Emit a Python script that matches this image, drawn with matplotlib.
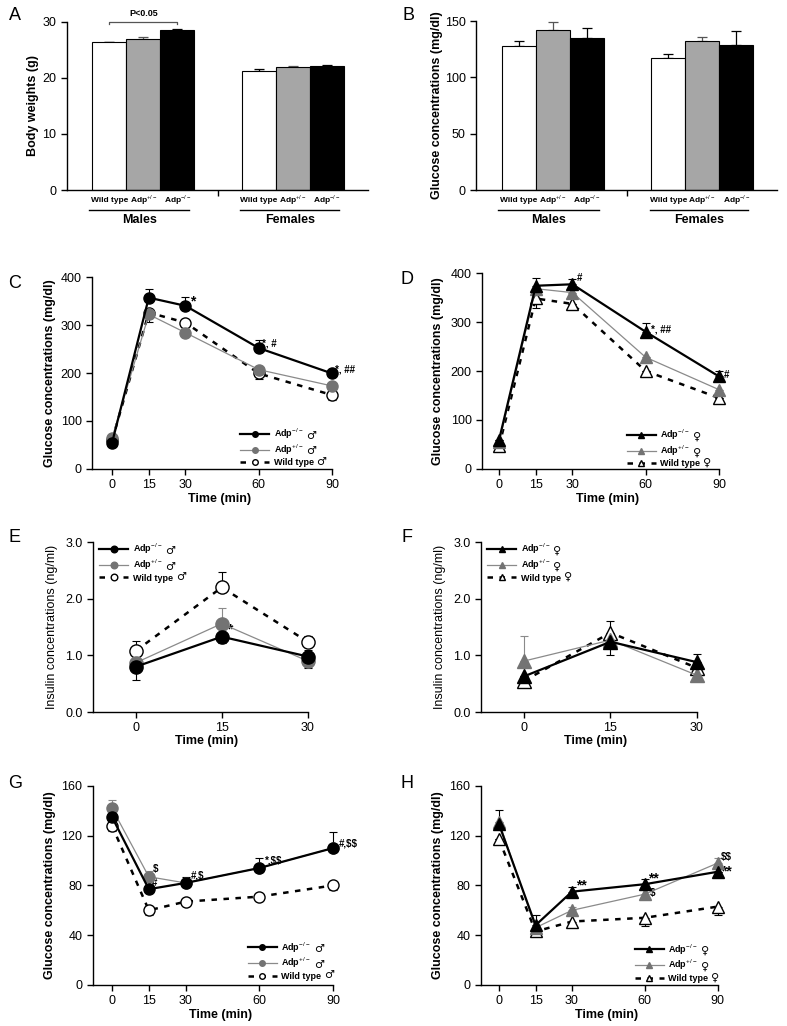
import numpy as np
import matplotlib
matplotlib.use('Agg')
import matplotlib.pyplot as plt
import matplotlib.transforms as mtransforms

plt.rcParams['font.family'] = ['Liberation Sans', 'DejaVu Sans']
plt.rcParams['mathtext.fontset'] = 'custom'
plt.rcParams['mathtext.rm'] = 'Liberation Sans'
plt.rcParams['mathtext.bf'] = 'Liberation Sans:bold'
plt.rcParams['axes.linewidth'] = 1.0

# ---------------- data ----------------
genotypes = ['Wild type', r'Adp$^{+/-}$', r'Adp$^{-/-}$']
sexes = ['Males', 'Females']

# A: body weights (g)
bw_males = [26.4, 27.0, 28.6]
bw_males_err = [0.1, 0.3, 0.1]
bw_females = [21.2, 21.9, 22.2]
bw_females_err = [0.4, 0.3, 0.1]

# B: fasting glucose (mg/dl)
glu_males = [128, 142, 135]
glu_males_err = [4, 7, 9]
glu_females = [117, 132, 129]
glu_females_err = [4, 4, 12]

t_gtt = [0, 15, 30, 60, 90]
t_ins = [0, 15, 30]

# C: GTT males  (mean, err down, err up)
c_ko = [55, 357, 340, 252, 199]
c_ko_dn = [0, 0, 0, 0, 0]
c_ko_up = [0, 18, 18, 17, 6]
c_het = [65, 322, 284, 207, 173]
c_het_dn = [0, 0, 0, 0, 0]
c_het_up = [0, 0, 6, 6, 0]
c_wt = [60, 326, 305, 199, 154]
c_wt_dn = [0, 20, 0, 12, 10]
c_wt_up = [0, 0, 0, 0, 0]

# D: GTT females
d_ko = [60, 374, 377, 280, 189]
d_ko_dn = [0, 0, 0, 0, 0]
d_ko_up = [0, 15, 10, 18, 10]
d_het = [55, 368, 360, 228, 162]
d_het_dn = [0, 0, 0, 0, 0]
d_het_up = [0, 0, 0, 0, 0]
d_wt = [47, 348, 337, 200, 145]
d_wt_dn = [0, 20, 0, 0, 0]
d_wt_up = [0, 0, 0, 0, 0]

# E: insulin males (ng/ml)
e_ko = [0.80, 1.33, 0.98]
e_ko_dn = [0.23, 0.12, 0.20]
e_ko_up = [0, 0, 0.12]
e_het = [0.87, 1.56, 0.90]
e_het_dn = [0, 0, 0.10]
e_het_up = [0, 0.27, 0]
e_wt = [1.08, 2.20, 1.24]
e_wt_dn = [0, 0, 0]
e_wt_up = [0.18, 0.27, 0.10]

# F: insulin females
f_ko = [0.63, 1.24, 0.88]
f_ko_dn = [0, 0.24, 0]
f_ko_up = [0, 0, 0.14]
f_het = [0.90, 1.27, 0.65]
f_het_dn = [0, 0, 0]
f_het_up = [0.45, 0, 0]
f_wt = [0.55, 1.40, 0.78]
f_wt_dn = [0.07, 0, 0]
f_wt_up = [0, 0.20, 0]

# G: ITT males
g_ko = [135, 77, 82, 94, 110]
g_ko_dn = [0, 0, 0, 0, 0]
g_ko_up = [0, 0, 5, 8, 13]
g_het = [142, 87, 82, 94, 110]
g_het_dn = [0, 0, 0, 0, 0]
g_het_up = [7, 5, 0, 0, 0]
g_wt = [128, 60, 67, 71, 80]
g_wt_dn = [4, 4, 0, 0, 4]
g_wt_up = [0, 0, 0, 0, 0]

# H: ITT females
h_ko = [129, 48, 75, 81, 91]
h_ko_dn = [0, 0, 0, 0, 0]
h_ko_up = [12, 8, 4, 4, 0]
h_het = [131, 46, 60, 73, 98]
h_het_dn = [0, 0, 0, 3, 0]
h_het_up = [0, 0, 3, 0, 4]
h_wt = [117, 43, 51, 54, 63]
h_wt_dn = [0, 0, 4, 7, 7]
h_wt_up = [0, 0, 0, 0, 0]

legend_labels = [r'Adp$^{-/-}$', r'Adp$^{+/-}$', 'Wild type']
MALE = '♂'
FEMALE = '♀'

GREY_BAR = '#a6a6a6'
GREY_LINE = '#8a8a8a'
GREY_MK = '#737373'

fig = plt.figure(figsize=(7.87, 10.26), dpi=100)
sex_symbols = []  # (legend, symbol) pairs, symbols added after a draw


def style_axes(ax):
    ax.spines['top'].set_visible(False)
    ax.spines['right'].set_visible(False)
    ax.tick_params(direction='out', length=4, width=1, labelsize=9)


# ---------------- bar panels ----------------
def bar_panel(rect, males, males_err, females, females_err, ymax, yticks, ylabel, ylab_x):
    ax = fig.add_axes(rect)
    style_axes(ax)
    pos_m = [1.25, 2.25, 3.25]
    pos_f = [5.65, 6.65, 7.65]
    colors = ['white', GREY_BAR, 'black']
    for p, v, e, c in zip(pos_m + pos_f, males + females, males_err + females_err, colors * 2):
        ax.bar(p, v, width=1.0, color=c, edgecolor='black', linewidth=0.8, zorder=2)
        ax.errorbar(p, v, yerr=[[0], [e]], fmt='none', ecolor='black' if c != GREY_BAR else '#555555',
                    elinewidth=0.9, capsize=3.5, capthick=0.9, zorder=1)
    ax.set_xlim(0, 8.85)
    ax.set_ylim(0, ymax)
    ax.set_yticks(yticks)
    ax.set_xticks([4.45])
    ax.set_xticklabels([])
    ax.set_ylabel(ylabel, fontsize=9, fontweight='bold')
    ax.yaxis.set_label_coords(ylab_x, 0.5)
    trans = mtransforms.blended_transform_factory(ax.transData, ax.transAxes)
    for p, lab in zip(pos_m + pos_f, genotypes * 2):
        ax.text(p, -0.06, lab, transform=trans, ha='center', va='center',
                fontsize=6, fontweight='bold')
    for (x0, x1), s in zip([(0.65, 3.6), (5.1, 8.0)], sexes):
        ax.plot([x0, x1], [-0.12, -0.12], color='black', lw=1.0, transform=trans, clip_on=False)
        ax.text((x0 + x1) / 2, -0.18, s, transform=trans, ha='center', va='center',
                fontsize=9, fontweight='bold')
    return ax


axA = bar_panel([0.085, 0.8148, 0.3825, 0.1638], bw_males, bw_males_err, bw_females, bw_females_err,
                30, [0, 10, 20, 30], 'Body weights (g)', -0.093)
# significance bracket
axA.plot([1.25, 1.25, 3.25, 3.25], [29.6, 30.0, 30.0, 29.6], color='#555555', lw=0.9, clip_on=False)
axA.text(2.25, 31.5, 'P<0.05', ha='center', va='center', fontsize=6.5, fontweight='bold')

axB = bar_panel([0.605, 0.8148, 0.3825, 0.1647], glu_males, glu_males_err, glu_females, glu_females_err,
                150, [0, 50, 100, 150], 'Glucose concentrations (mg/dl)', -0.11)


# ---------------- line panels ----------------
def line_panel(rect, t, series, symbol, marker, msize, xlim, ylim, yticks, ylabel, ylab_x,
               xlab_y, leg_anchor, yfmt=None):
    ax = fig.add_axes(rect)
    style_axes(ax)
    ko, het, wt = series
    eb = dict(fmt='none', elinewidth=0.8, capsize=3, capthick=0.8, zorder=2, clip_on=False)
    # wild type (dashed, open markers)
    m, dn, up = wt
    ax.errorbar(t, m, yerr=[dn, up], ecolor='black', **eb)
    h_wt, = ax.plot(t, m, color='black', lw=1.8, ls=(0, (2.2, 2.6)), marker=marker, ms=msize,
                    mfc='white', mec='black', mew=1.0, zorder=3, clip_on=False)
    # heterozygous (thin grey)
    m, dn, up = het
    ax.errorbar(t, m, yerr=[dn, up], ecolor=GREY_LINE, **eb)
    h_het, = ax.plot(t, m, color=GREY_LINE, lw=0.9, marker=marker, ms=msize,
                     mfc=GREY_MK, mec=GREY_MK, zorder=4, clip_on=False)
    # knockout (thick black)
    m, dn, up = ko
    ax.errorbar(t, m, yerr=[dn, up], ecolor='black', **eb)
    h_ko, = ax.plot(t, m, color='black', lw=1.6, marker=marker, ms=msize,
                    mfc='black', mec='black', zorder=5, clip_on=False)
    ax.set_xlim(*xlim)
    ax.set_ylim(*ylim)
    ax.set_xticks(t)
    ax.set_yticks(yticks)
    if yfmt:
        ax.set_yticklabels([yfmt % v for v in yticks])
    ax.spines['bottom'].set_bounds(xlim[0], t[-1])
    if 'Insulin' in ylabel:
        ax.set_ylabel(ylabel, fontsize=9)
    else:
        ax.set_ylabel(ylabel, fontsize=9, fontweight='bold')
    ax.yaxis.set_label_coords(ylab_x, 0.5)
    ax.set_xlabel('Time (min)', fontsize=9, fontweight='bold')
    ax.xaxis.set_label_coords(0.53, xlab_y)
    leg = ax.legend([h_ko, h_het, h_wt], legend_labels, loc='upper left', bbox_to_anchor=leg_anchor,
                    frameon=False, fontsize=6.5, markerscale=0.5, handlelength=3.2,
                    handletextpad=0.5, labelspacing=0.15, borderpad=0, borderaxespad=0)
    for txt in leg.get_texts():
        txt.set_fontweight('bold')
    sex_symbols.append((leg, symbol))
    return ax


def annotate(ax, items, size=7):
    for x, y, s in items:
        fs = 10 if set(s) == {'*'} else size
        ax.text(x, y, s.replace('$', r'\$'), ha='left', va='center', fontsize=fs, fontweight='bold')


axC = line_panel([0.117, 0.5429, 0.305, 0.1871], t_gtt,
                 [(c_ko, c_ko_dn, c_ko_up), (c_het, c_het_dn, c_het_up), (c_wt, c_wt_dn, c_wt_up)],
                 MALE, 'o', 8, (-8.2, 90), (0, 400), [0, 100, 200, 300, 400],
                 'Glucose concentrations (mg/dl)', -0.15, -0.125, (0.617, 0.22))
annotate(axC, [(32.0, 350, '*'), (61.5, 262, '*, #'), (91.0, 208, '*, ##')])

axD = line_panel([0.6125, 0.5429, 0.301, 0.191], t_gtt,
                 [(d_ko, d_ko_dn, d_ko_up), (d_het, d_het_dn, d_het_up), (d_wt, d_wt_dn, d_wt_up)],
                 FEMALE, '^', 8.5, (-7.0, 90), (0, 400), [0, 100, 200, 300, 400],
                 'Glucose concentrations (mg/dl)', -0.16, -0.122, (0.612, 0.21))
annotate(axD, [(32.0, 390, '#'), (62.0, 284, '*, ##'), (92.0, 192, '#')])

axE = line_panel([0.118, 0.306, 0.273, 0.1657], t_ins,
                 [(e_ko, e_ko_dn, e_ko_up), (e_het, e_het_dn, e_het_up), (e_wt, e_wt_dn, e_wt_up)],
                 MALE, 'o', 9.5, (-7.5, 30), (0, 3.0), [0.0, 1.0, 2.0, 3.0],
                 'Insulin concentrations (ng/ml)', -0.163, -0.135, (0.03, 1.0), yfmt='%.1f')
annotate(axE, [(16.0, 1.45, '*')])

axF = line_panel([0.611, 0.306, 0.2745, 0.1657], t_ins,
                 [(f_ko, f_ko_dn, f_ko_up), (f_het, f_het_dn, f_het_up), (f_wt, f_wt_dn, f_wt_up)],
                 FEMALE, '^', 9.5, (-7.5, 30), (0, 3.0), [0.0, 1.0, 2.0, 3.0],
                 'Insulin concentrations (ng/ml)', -0.162, -0.135, (0.03, 1.0), yfmt='%.1f')

axG = line_panel([0.118, 0.040, 0.305, 0.194], t_gtt,
                 [(g_ko, g_ko_dn, g_ko_up), (g_het, g_het_dn, g_het_up), (g_wt, g_wt_dn, g_wt_up)],
                 MALE, 'o', 8, (-7.8, 90), (0, 160), [0, 40, 80, 120, 160],
                 'Glucose concentrations (mg/dl)', -0.154, -0.12, (0.646, 0.225))
annotate(axG, [(16.5, 93, '$'), (16.2, 82, '#'), (32.0, 88, '#,$'), (62.5, 100, '*,$$'),
               (92.5, 114, '#,$$')])

axH = line_panel([0.611, 0.040, 0.301, 0.194], t_gtt,
                 [(h_ko, h_ko_dn, h_ko_up), (h_het, h_het_dn, h_het_up), (h_wt, h_wt_dn, h_wt_up)],
                 FEMALE, '^', 8.5, (-7.5, 90), (0, 160), [0, 40, 80, 120, 160],
                 'Glucose concentrations (mg/dl)', -0.156, -0.12, (0.65, 0.215))
annotate(axH, [(31.5, 80, '**'), (61.4, 86, '**'), (62.0, 74, '$'), (91.2, 103, '$$'),
               (91.2, 91, '**')])

# panel letters
for letter, (px, py) in zip('ABCDEFGH', [(15, 15), (408, 15), (15, 283), (407, 280),
                                          (15, 537), (407, 537), (15, 783), (407, 783)]):
    fig.text(px / 787, 1 - py / 1026, letter, ha='center', va='center', fontsize=13)

# sex symbols after each legend label (drawn larger than the label text)
fig.canvas.draw()
W, H = fig.canvas.get_width_height()
for leg, sym in sex_symbols:
    for txt in leg.get_texts():
        bb = txt.get_window_extent()
        fig.text((bb.x1 + 3) / W, (bb.y0 + 0.5) / H, sym, ha='left', va='bottom',
                 fontsize=8, family='DejaVu Sans')

fig.savefig('out.png', dpi=100)
